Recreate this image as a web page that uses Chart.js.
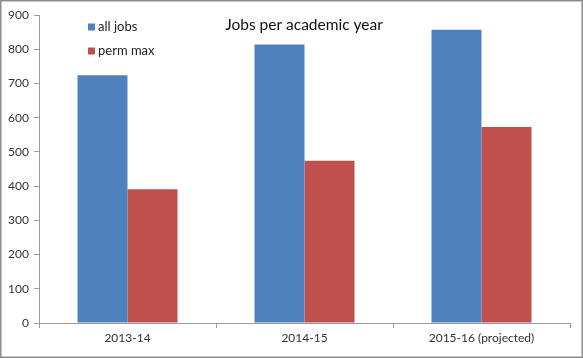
<!DOCTYPE html>
<html><head><meta charset="utf-8">
<script src="https://cdn.jsdelivr.net/npm/chart.js@4/dist/chart.umd.min.js"></script>
<style>html,body{margin:0;padding:0;background:#fff}canvas{display:block}</style>
</head><body>
<canvas id="c" width="583" height="358"></canvas>
<script>
const categories = ["2013-14", "2014-15", "2015-16 (projected)"];
const allJobs = [724, 814, 857];
const permMax = [391, 474, 573];
const seriesNames = ["all jobs", "perm max"];
const titleText = "Jobs per academic year";

const FONT = "Lato, 'Open Sans', sans-serif";

const overlay = {
  id: 'overlay',
  afterDraw(chart) {
    const ctx = chart.ctx;
    ctx.save();
    // frame
    ctx.strokeStyle = '#8c8c8c';
    ctx.lineWidth = 1.5;
    ctx.strokeRect(0.75, 0.75, 581.5, 356.5);
    // title
    ctx.fillStyle = '#111';
    ctx.font = "15.5px " + FONT;
    ctx.textAlign = 'center';
    ctx.textBaseline = 'middle';
    ctx.fillText(titleText, 304, 25);
    // legend
    ctx.font = "13px " + FONT;
    ctx.textAlign = 'left';
    chart.data.datasets.forEach((ds, i) => {
      const y = 27 + i * 24;
      ctx.fillStyle = ds.backgroundColor;
      ctx.fillRect(88, y - 3.5, 7, 7);
      ctx.fillStyle = '#222';
      ctx.fillText(ds.label, 98, y);
    });
    ctx.restore();
  }
};

new Chart(document.getElementById('c'), {
  type: 'bar',
  data: {
    labels: categories,
    datasets: [
      { label: seriesNames[0], data: allJobs, backgroundColor: '#4F81BD' },
      { label: seriesNames[1], data: permMax, backgroundColor: '#C0504D' }
    ]
  },
  options: {
    responsive: false,
    animation: false,
    layout: { padding: { left: 0, right: 13, top: 15, bottom: 0 } },
    datasets: { bar: { categoryPercentage: 0.565, barPercentage: 1.0 } },
    plugins: { legend: { display: false }, title: { display: false }, tooltip: { enabled: false } },
    scales: {
      x: {
        afterFit(s) { s.height = 35; },
        grid: { offset: true, drawOnChartArea: false, tickLength: 5, color: '#9a9a9a' },
        border: { color: '#9a9a9a' },
        ticks: { color: '#333', font: { family: FONT, size: 12 }, padding: 3 }
      },
      y: {
        min: 0, max: 900,
        afterFit(s) { s.width = 39; },
        grid: { drawOnChartArea: false, tickLength: 5, color: '#9a9a9a' },
        border: { color: '#9a9a9a' },
        ticks: { stepSize: 100, color: '#333', font: { family: FONT, size: 12 }, padding: 5 }
      }
    }
  },
  plugins: [overlay]
});
</script>
</body></html>
